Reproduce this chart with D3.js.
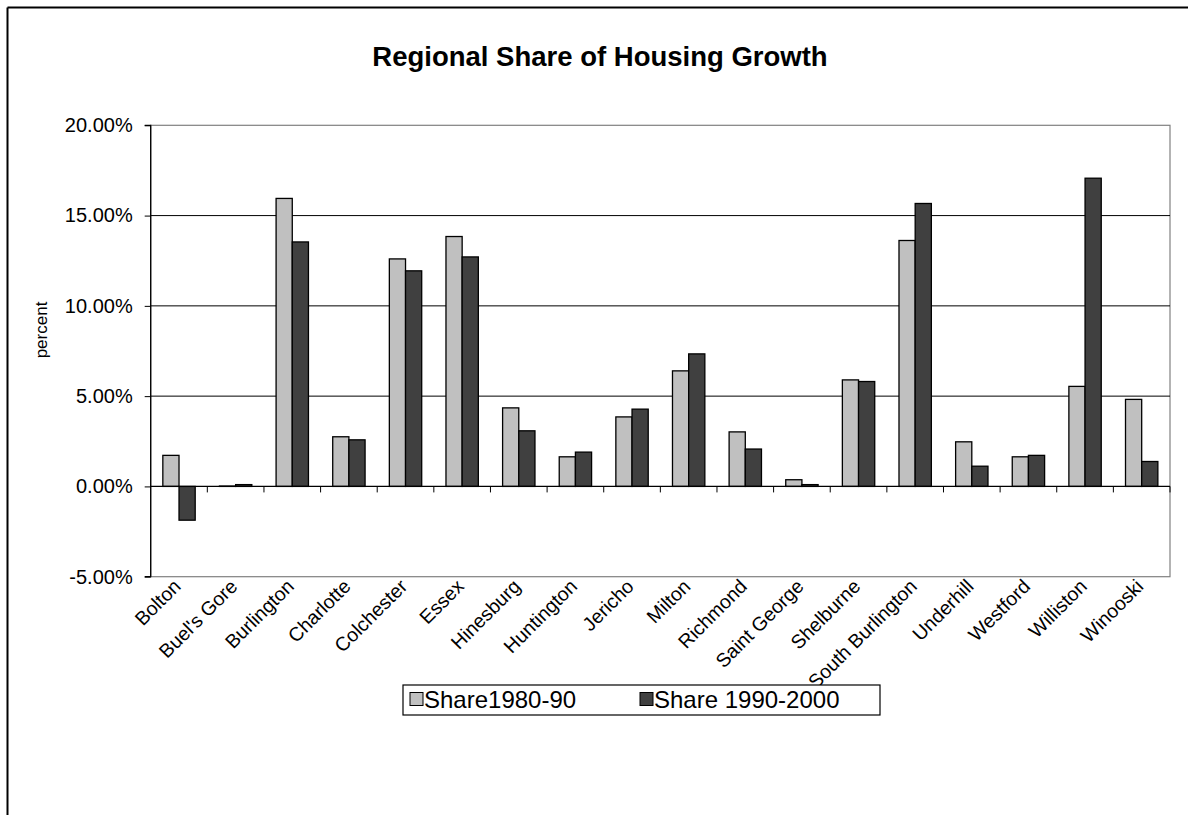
<!DOCTYPE html>
<html><head><meta charset="utf-8">
<script src="https://cdn.jsdelivr.net/npm/d3@7"></script>
<style>body{margin:0;background:#fff}svg{display:block}text{font-family:"Liberation Sans",Arial,sans-serif}</style>
</head><body><svg id="c" width="1188" height="815"></svg>
<script>
const categories = ["Bolton","Buel's Gore","Burlington","Charlotte","Colchester","Essex","Hinesburg","Huntington","Jericho","Milton","Richmond","Saint George","Shelburne","South Burlington","Underhill","Westford","Williston","Winooski"];
const share1980 = [1.72,0.02,15.95,2.75,12.6,13.84,4.35,1.64,3.85,6.4,3.02,0.37,5.9,13.62,2.47,1.64,5.54,4.82];
const share1990 = [-1.87,0.1,13.54,2.58,11.94,12.71,3.08,1.9,4.28,7.34,2.07,0.1,5.81,15.67,1.12,1.72,17.07,1.38];
const seriesNames = ["Share1980-90","Share 1990-2000"];
const seriesColors = ["#c0c0c0","#404040"];
const yTicks = [-5,0,5,10,15,20];
const title = "Regional Share of Housing Growth";
const yLabel = "percent";

const svg = d3.select("#c");
const L = 150.7, R = 1170, T = 125.3, B = 576.7;

svg.append("line").attr("x1",7.5).attr("x2",1188).attr("y1",7.5).attr("y2",7.5).attr("stroke","#000").attr("stroke-width",2);
svg.append("line").attr("x1",7.5).attr("x2",7.5).attr("y1",7.5).attr("y2",815).attr("stroke","#000").attr("stroke-width",2);

svg.append("text").attr("x",600).attr("y",66).attr("text-anchor","middle").attr("font-size",27.5).attr("font-weight","bold").text(title);

const x = d3.scaleBand().domain(categories).range([L,R]);
const x1 = d3.scaleBand().domain([0,1]).range([0,x.bandwidth()]).paddingInner(0).paddingOuter(0.75);
const y = d3.scaleLinear().domain([-5,20]).range([B,T]);

svg.append("rect").attr("x",L).attr("y",T).attr("width",R-L).attr("height",B-T).attr("fill","none").attr("stroke","#808080").attr("stroke-width",1.2);

svg.append("g").selectAll("line").data(yTicks.filter(d=>d>0&&d<20)).join("line")
  .attr("x1",L).attr("x2",R).attr("y1",d=>y(d)).attr("y2",d=>y(d)).attr("stroke","#000").attr("stroke-width",1);

const groups = svg.append("g").selectAll("g").data(categories).join("g").attr("transform",d=>`translate(${x(d)},0)`);
[share1980,share1990].forEach((s,si)=>{
  groups.append("rect")
    .attr("x",x1(si)).attr("width",x1.bandwidth())
    .attr("y",(d,i)=>y(Math.max(0,s[i]))).attr("height",(d,i)=>Math.abs(y(s[i])-y(0)))
    .attr("fill",seriesColors[si]).attr("stroke","#000").attr("stroke-width",1.3);
});

const ya = svg.append("g").attr("transform",`translate(${L},0)`).call(d3.axisLeft(y).tickValues(yTicks).tickSize(6).tickPadding(12).tickFormat(d=>d.toFixed(2)+"%"));
ya.select(".domain").attr("stroke","#000").attr("stroke-width",1.3).attr("d",`M-6,${T}H0V${B}H-6`);
ya.selectAll(".tick line").attr("stroke","#000");
ya.selectAll("text").attr("font-size",20).attr("fill","#000").attr("font-family","Liberation Sans, Arial, sans-serif");

const xa = svg.append("g").attr("transform",`translate(0,${y(0)})`);
xa.append("line").attr("x1",L).attr("x2",R).attr("stroke","#000").attr("stroke-width",1.3);
xa.selectAll("line.t").data(categories).join("line").attr("class","t")
  .attr("x1",(d,i)=>L+(i+1)*x.step()).attr("x2",(d,i)=>L+(i+1)*x.step()).attr("y1",0).attr("y2",6).attr("stroke","#000");

svg.append("text").attr("transform",`translate(47,330) rotate(-90)`).attr("text-anchor","middle").attr("font-size",17).text(yLabel);

svg.append("g").selectAll("text").data(categories).join("text")
  .attr("transform",d=>`translate(${x(d)+x.bandwidth()/2+3},${B+11}) rotate(-45)`)
  .attr("text-anchor","end").attr("font-size",19.5).text(d=>d);

const lg = svg.append("g");
lg.append("rect").attr("x",403).attr("y",685).attr("width",477).attr("height",30).attr("fill","#fff").attr("stroke","#000").attr("stroke-width",1.2);
const litems = [{x:410,tx:424},{x:640,tx:654}];
seriesNames.forEach((n,i)=>{
  lg.append("rect").attr("x",litems[i].x).attr("y",692.5).attr("width",13).attr("height",13).attr("fill",seriesColors[i]).attr("stroke","#000");
  lg.append("text").attr("x",litems[i].tx).attr("y",707.5).attr("font-size",24).text(n);
});
</script></body></html>
